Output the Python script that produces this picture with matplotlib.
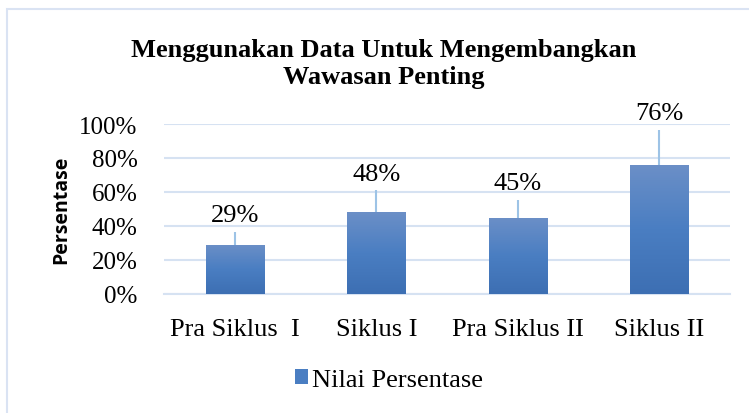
import matplotlib
matplotlib.use("Agg")
import matplotlib.pyplot as plt
import numpy as np
from matplotlib.patches import Rectangle, Patch
from matplotlib.colors import LinearSegmentedColormap

categories = ["Pra Siklus  I", "Siklus I", "Pra Siklus II", "Siklus II"]
values = [29, 48, 45, 76]
errors_up = [7.5, 13, 10.5, 20.5]
yticks = [0, 20, 40, 60, 80, 100]
title = "Menggunakan Data Untuk Mengembangkan\nWawasan Penting"
ylabel = "Persentase"
legend_label = "Nilai Persentase"

serif = ["Liberation Serif", "DejaVu Serif"]
grid_c = "#d6e2f2"

fig = plt.figure(figsize=(7.49, 4.14), dpi=100)
fig.patches.append(Rectangle((7/749, -0.2), 1.2, 1 - 10/414 + 0.2, transform=fig.transFigure,
                             fill=False, edgecolor="#dae3f3", lw=1.5))

ax = fig.add_axes([164/749, 1 - 295/414, (730-164)/749, (295-125)/414])
x = np.arange(len(categories))

cmap = LinearSegmentedColormap.from_list("g", ["#3d6fb3", "#4a7ec2", "#6b8fc7"])
grad = np.linspace(0, 1, 100).reshape(-1, 1)
bars = ax.bar(x, values, width=0.41, color="none", zorder=3)
for b in bars:
    x0, w, h = b.get_x(), b.get_width(), b.get_height()
    im = ax.imshow(grad, extent=(x0, x0 + w, 0, h), origin="lower", cmap=cmap,
                   aspect="auto", zorder=3)
    im.set_clip_path(b)
ax.set_aspect("auto")
ax.set_xlim(-0.5, len(categories) - 0.5)
ax.set_ylim(0, 100)

ax.errorbar(x, values, yerr=[[0]*len(values), errors_up], fmt="none",
            ecolor="#9dc3e6", elinewidth=1.5, capsize=0, zorder=2)

for xi, v, e in zip(x, values, errors_up):
    ax.annotate(f"{v}%", (xi, v + e), xytext=(0, 4), textcoords="offset points",
                ha="center", va="bottom", fontsize=19, family=serif,
                annotation_clip=False)

ax.set_yticks(yticks)
ax.set_yticklabels([f"{t}%" for t in yticks], family=serif, fontsize=18)
ax.set_xticks(x)
ax.set_xticklabels(categories, family=serif, fontsize=19)
ax.tick_params(axis="y", length=0, pad=19)
ax.tick_params(axis="x", length=0, pad=17)
ax.yaxis.grid(True, color=grid_c, lw=1.5, zorder=0)
ax.set_axisbelow(True)
for s in ["top", "right", "left"]:
    ax.spines[s].set_visible(False)
ax.spines["bottom"].set_color(grid_c)
ax.spines["bottom"].set_linewidth(1.5)

ax.set_ylabel(ylabel, family=["Open Sans", "DejaVu Sans"], fontweight="bold", fontsize=14)
ax.yaxis.set_label_coords(-93/566, 0.5)

fig.text(384/749, 1 - 64/414, title, ha="center", va="center", family=serif,
         fontweight="bold", fontsize=19, linespacing=1.25)

leg_handle = Patch(facecolor="#4a7ec2", edgecolor="none")
fig.legend([leg_handle], [legend_label], loc="center", bbox_to_anchor=(389/749, 1 - 381/414),
           frameon=False, prop={"family": serif, "size": 19}, handlelength=0.5,
           handleheight=0.5, handletextpad=0.15)

fig.savefig("out.png", dpi=100)
